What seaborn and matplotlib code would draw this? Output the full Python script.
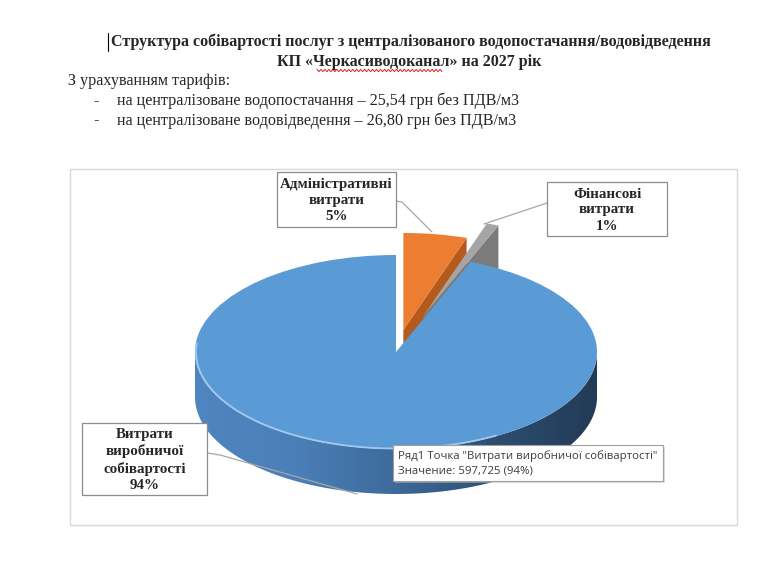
import numpy as np
import matplotlib
matplotlib.use("Agg")
import matplotlib.pyplot as plt
from matplotlib.patches import Polygon, Rectangle
from matplotlib.colors import LinearSegmentedColormap
import seaborn as sns

# data
categories = ["Витрати виробничої собівартості", "Адміністративні витрати", "Фінансові витрати"]
values = [597.725, 32.4, 6.2]
label_names = ["Витрати\nвиробничої\nсобівартості", "Адміністративні\nвитрати", "Фінансові\nвитрати"]
title_lines = ["Структура собівартості послуг з централізованого водопостачання/водовідведення",
               "КП «Черкасиводоканал» на 2027 рік"]
intro = "З урахуванням тарифів:"
bullets = ["на централізоване водопостачання – 25,54 грн без ПДВ/м3",
           "на централізоване водовідведення – 26,80 грн без ПДВ/м3"]
tooltip = ['Ряд1 Точка "Витрати виробничої собівартості"', "Значение: 597,725 (94%)"]

sns.set_theme(style="white")
plt.rcParams['font.family'] = ['Liberation Serif', 'DejaVu Serif']

top_colors = sns.color_palette(["#5b9bd5", "#ed7d31", "#a5a5a5"])
side_colors = ["#3f6d9c", "#b35a1c", "#7b7b7b"]
explode = [0, 0.23, 0.4]

# pie placement in pixels
CX, CY, RX, RY, DEPTH = 396, 352, 201, 97, 45
W, H = 780, 585
d = DEPTH / RY

fig = plt.figure(figsize=(7.8, 5.85), dpi=100)
fig.patch.set_facecolor("white")
pax = fig.add_axes([0, 0, 1, 1], zorder=1)
ax = fig.add_axes([0, 0, 1, 1], zorder=2)
ax.patch.set_visible(False)
ax.set_xlim(0, W)
ax.set_ylim(H, 0)
ax.axis("off")

total = sum(values)
start = 90 + 360 * values[0] / total
wedges, _ = pax.pie(values, startangle=start, counterclock=False, explode=explode,
                    colors=top_colors, radius=1, center=(0, 0),
                    wedgeprops=dict(linewidth=0))
pax.set_aspect("auto")
pax.axis("off")

# angles of each wedge (same as pie computes)
fracs = np.array(values) / total
cum = np.concatenate([[0], np.cumsum(fracs)])
# drawing order: side face, top face
zorders = {1: (2, 5), 2: (3, 4), 0: (6, 7)}
for i in range(len(values)):
    t1 = start - 360 * cum[i]
    t2 = start - 360 * cum[i + 1]
    tm = np.deg2rad(0.5 * (t1 + t2))
    ox, oy = explode[i] * np.cos(tm), explode[i] * np.sin(tm)
    zs, zt = zorders[i]
    wedges[i].set_zorder(zt)
    lo = min(t1, t2)
    if i > 0:
        # radial face at the lower angle end (faces the viewer)
        a = np.deg2rad(lo)
        pts = [(ox, oy), (ox + np.cos(a), oy + np.sin(a)),
               (ox + np.cos(a), oy + np.sin(a) - d), (ox, oy - d)]
        pax.add_patch(Polygon(pts, closed=True, fc=side_colors[i], ec="none", zorder=zs))
    else:
        th = np.deg2rad(np.linspace(180, 360, 200))
        top = np.column_stack([np.cos(th), np.sin(th)])
        bot = np.column_stack([np.cos(th[::-1]), np.sin(th[::-1]) - d])
        side = Polygon(np.vstack([top, bot]), closed=True, fc="none", ec="none", zorder=zs)
        pax.add_patch(side)
        cmap = LinearSegmentedColormap.from_list(
            "side", ["#4f85c0", "#4b7fb8", "#3d6a9a", "#2d4d70", "#223b56"])
        grad = np.linspace(0, 1, 256).reshape(1, -1)
        im = pax.imshow(grad, cmap=cmap, extent=(-1, 1, -1 - d, 0), aspect="auto",
                        zorder=zs, interpolation="bicubic")
        im.set_clip_path(side)
        # light rim on the front edge of the top face
        th2 = np.deg2rad(np.linspace(175, 300, 120))
        pax.plot(np.cos(th2) * 0.995, np.sin(th2) * 0.995, color="#a9cdf0", lw=1.3,
                 alpha=0.9, zorder=zt + 1, solid_capstyle="round")
pax.set_xlim(-CX / RX, (W - CX) / RX)
pax.set_ylim((CY - H) / RY, CY / RY)

# document text
ax.plot([108, 108], [33, 51], color="black", lw=0.8)
ax.text(411, 42, title_lines[0], ha="center", va="center", fontsize=11.5, weight="bold")
ax.text(409, 62, title_lines[1], ha="center", va="center", fontsize=11.5, weight="bold")
wx = np.linspace(317, 442, 64)
ax.plot(wx, 70.5 + 1.2 * np.where(np.arange(64) % 2 == 0, -1, 1), color="#e02020", lw=0.7)
ax.text(68, 81, intro, ha="left", va="center", fontsize=11.6)
for k, b in enumerate(bullets):
    y = 101 + 19.5 * k
    ax.text(93, y, "-", ha="left", va="center", fontsize=11.6)
    ax.text(117, y, b, ha="left", va="center", fontsize=11.6)

# chart area frame
ax.add_patch(Rectangle((70, 168.5), 667, 356, fc="none", ec="#d9d9d9", lw=1))

# data labels with leader lines
pct = [f"{round(v / total * 100)}%" for v in values]
boxes = [(82, 423, 125, 72), (277, 172, 119, 55), (547, 182, 120, 54)]
leaders = [[(207, 453), (220, 455), (357, 494)],
           [(396, 201), (402, 202), (432, 232)],
           [(547, 203), (484, 224)]]
for i in range(len(values)):
    bx, by, bw, bh = boxes[i]
    lx, ly = zip(*leaders[i])
    ax.plot(lx, ly, color="#a6a6a6", lw=0.9, zorder=3)
    ax.add_patch(Rectangle((bx, by), bw, bh, fc="white", ec="#8c8c8c", lw=0.9, zorder=4))
    ax.text(bx + bw / 2, by + bh / 2 + 1, label_names[i] + "\n" + pct[i], ha="center",
            va="center", fontsize=10.8, weight="bold", linespacing=1.3, zorder=5)

# tooltip
ax.add_patch(Rectangle((395, 447), 270, 36, fc="#bdbdbd", ec="none", alpha=0.5, zorder=5))
ax.add_patch(Rectangle((393, 445), 270, 36, fc="white", ec="#a0a0a0", lw=0.8, zorder=6))
for k, t in enumerate(tooltip):
    ax.text(398, 456 + 15 * k, t, ha="left", va="center", fontsize=8.2, color="#3b3b3b",
            family=["Open Sans", "DejaVu Sans"], zorder=7)

fig.savefig("out.png", dpi=100, facecolor="white")
